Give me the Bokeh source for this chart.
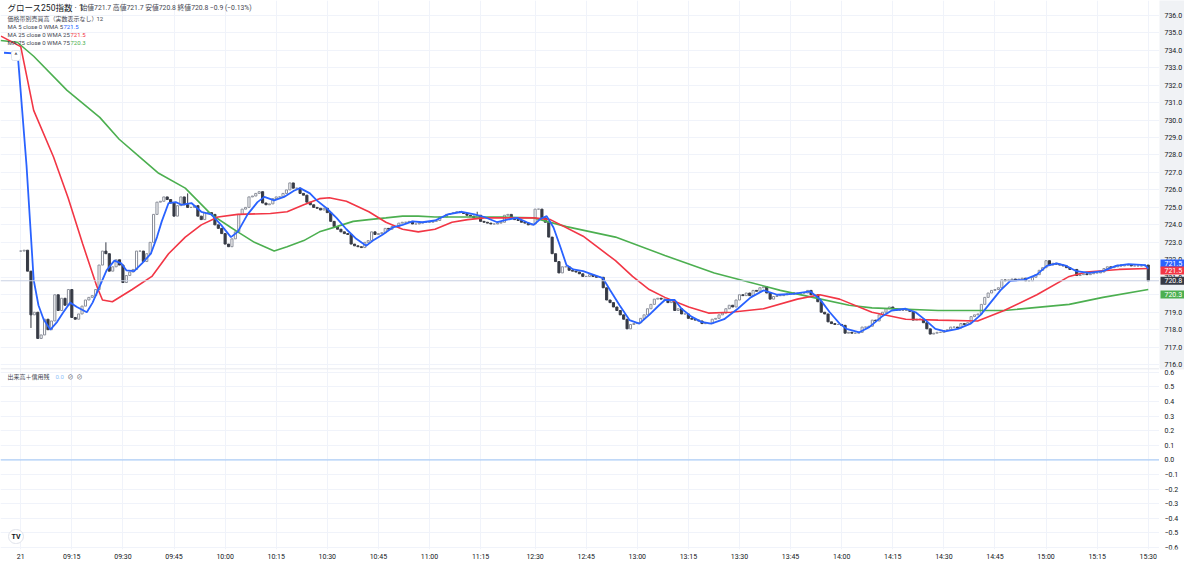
from bokeh.plotting import figure
from bokeh.models import Range1d, FixedTicker, Span, Label, ColumnDataSource, LinearAxis
from bokeh.layouts import column, row
from bokeh.embed import file_html
from bokeh.resources import INLINE
from bokeh.core.properties import value

# ---------------- data ----------------
first_open = 722.5
closes = [
    722.5, 722.55, 721.35, 718.85, 719.0, 717.5, 717.7, 718.6, 718.0, 718.5,
    720.0, 719.1, 719.8, 719.4, 720.3, 718.7, 718.6, 718.9, 719.35, 719.7,
    719.85, 719.95, 720.3, 721.7, 722.5, 722.35, 721.35, 721.6, 722.0, 721.7,
    720.7, 721.1, 721.3, 721.45, 722.5, 722.5, 721.9, 722.35, 723.0, 724.6,
    725.3, 725.35, 725.6, 725.45, 725.25, 724.5, 725.1, 725.6, 725.15, 725.0,
    725.0, 725.1, 724.5, 724.3, 724.7, 724.7, 724.6, 724.0, 723.8, 723.5,
    722.9, 722.75, 723.2, 723.6, 724.6, 724.9, 725.0, 725.6, 725.65, 725.8,
    725.9, 725.25, 725.15, 725.2, 725.5, 725.6, 725.6, 725.8, 726.0, 726.4,
    726.1, 726.1, 725.8, 725.7, 725.3, 725.15, 725.0, 724.95, 724.85, 724.95,
    724.7, 724.2, 723.9, 723.75, 723.6, 723.5, 723.45, 722.9, 722.8, 722.75,
    722.7, 723.0, 723.1, 723.6, 723.45, 723.5, 723.55, 723.8, 723.75, 723.9,
    723.9, 724.1, 724.15, 724.15, 724.2, 724.05, 724.05, 724.1, 724.15, 724.15,
    724.15, 724.2, 724.25, 724.45, 724.45, 724.6, 724.65, 724.7, 724.75, 724.7,
    724.65, 724.55, 724.5, 724.4, 724.55, 724.2, 724.15, 724.1, 724.05, 724.05,
    724.1, 724.15, 724.55, 724.6, 724.4, 724.3, 724.25, 724.15, 724.1, 724.0,
    724.05, 724.9, 724.9, 724.4, 724.15, 723.3, 722.35, 721.9, 721.25, 721.6,
    721.6, 721.4, 721.35, 721.3, 721.2, 721.05, 721.05, 721.15, 721.05, 721.0,
    721.0, 720.4, 719.7, 719.55, 719.3, 719.1, 718.85, 718.6, 718.05, 718.3,
    718.35, 718.4, 718.65, 718.85, 719.2, 719.45, 719.75, 719.8, 719.75, 719.75,
    719.55, 719.65, 719.1, 719.2, 718.9, 718.9, 718.65, 718.6, 718.55, 718.5,
    718.35, 718.35, 718.35, 718.6, 718.65, 718.85, 718.95, 719.2, 719.4, 719.3,
    719.7, 720.0, 719.95, 720.1, 719.95, 720.25, 720.2, 720.4, 720.45, 720.1,
    719.75, 719.9, 719.95, 719.95, 720.0, 720.05, 720.1, 720.05, 720.1, 720.1,
    720.1, 720.25, 720.0, 720.0, 719.6, 719.0, 718.9, 718.45, 718.35, 718.3,
    718.3, 718.25, 717.8, 717.85, 717.8, 717.8, 717.85, 718.15, 718.15, 718.2,
    718.55, 718.5, 718.85, 719.0, 719.2, 719.3, 719.2, 719.1, 719.1, 719.1,
    719.1, 719.05, 718.55, 718.6, 718.6, 718.4, 718.05, 717.75, 717.8, 717.85,
    717.85, 717.95, 718.0, 718.15, 718.15, 718.1, 718.35, 718.3, 718.4, 718.75,
    718.85, 718.9, 719.45, 719.85, 720.1, 720.25, 720.3, 720.4, 720.85, 720.8,
    720.85, 720.9, 720.85, 720.9, 720.95, 720.8, 720.8, 721.0, 721.15, 721.4,
    721.55, 721.95, 721.7, 721.8, 721.75, 721.7, 721.65, 721.55, 721.45, 721.45,
    721.1, 721.15, 721.2, 721.15, 721.2, 721.25, 721.25, 721.3, 721.5, 721.6,
    721.55, 721.6, 721.7, 721.65, 721.7, 721.7, 721.65, 721.65, 721.65, 721.65,
    721.7, 720.8,
]
wick_bars = [3, 25, 49, 134]
wick_lows = [718.1, 722.35, 725.0, 724.4]
wick_highs = [721.35, 723.0, 725.8, 724.75]

# moving averages: (bar position, value)
ma5_bar = [-4.9, -0.9, 0, 1.7, 3.8, 5.2, 6.7, 8.7, 10.7, 12.5, 14.5, 16.5, 19.4, 21.1, 23.2, 25.2, 27.5, 29.5, 31.0, 33.3,
           35.6, 38.2, 40.0, 41.4, 43.4, 45.5, 47.2, 50.1, 53.0, 55.9, 58.8, 61.7, 63.7, 66.6, 69.5, 71.5, 74.4, 77.3, 80.2, 82.0,
           84.9, 86.9, 89.8, 92.7, 95.6, 98.5, 101.4, 103.4, 106.3, 109.2, 112.1, 115.0, 117.9, 121.6, 125.4, 129.5, 133.2, 136.1, 139.9, 142.8,
           145.7, 148.6, 150.6, 152.6, 154.4, 156.4, 158.4, 160.2, 162.2, 165.1, 168.0, 170.9, 172.9, 175.8, 178.7, 181.6, 184.5, 187.4, 189.1, 192.0,
           194.0, 196.9, 199.8, 202.7, 206.5, 210.5, 214.3, 218.1, 222.1, 226.8, 231.7, 234.6, 237.5, 240.4, 242.4, 246.2, 249.1, 252.8, 255.7, 259.8,
           262.7, 265.6, 268.5, 271.4, 275.1, 278.9, 281.8, 284.7, 287.6, 290.5, 294.5, 298.3, 301.2, 304.1, 307.0, 309.9, 313.6, 317.7, 321.5, 325.2,
           330.1, 331.0]
ma5_val = [733.85, 733.8, 731.6, 727.4, 720.85, 719.4, 718.6, 718.0, 718.45, 719.0, 719.55, 719.3, 719.0, 719.55, 720.5, 721.4, 721.95, 721.8, 721.4, 721.35,
           721.8, 722.35, 723.3, 724.2, 725.25, 725.3, 725.15, 725.25, 724.75, 724.6, 724.0, 723.3, 723.6, 724.6, 725.3, 725.6, 725.4, 725.6, 725.95, 726.1,
           725.8, 725.4, 724.95, 724.4, 723.75, 723.2, 722.8, 723.1, 723.45, 723.85, 724.0, 724.2, 724.15, 724.25, 724.6, 724.75, 724.6, 724.45, 724.15, 724.3,
           724.4, 724.15, 724.0, 724.35, 724.5, 723.85, 722.75, 721.7, 721.45, 721.35, 721.15, 720.95, 720.3, 719.4, 718.55, 718.35, 718.85, 719.4, 719.7, 719.7,
           719.2, 718.75, 718.45, 718.35, 718.6, 719.2, 719.85, 720.25, 720.0, 720.05, 720.2, 719.75, 719.0, 718.35, 718.05, 717.85, 718.15, 718.75, 719.1, 719.2,
           719.0, 718.55, 718.05, 717.9, 718.05, 718.35, 718.85, 719.55, 720.25, 720.8, 720.85, 721.15, 721.65, 721.8, 721.65, 721.35, 721.25, 721.35, 721.65, 721.75,
           721.7, 721.5]
ma25_bar = [-5.8, 0, 3.8, 9.6, 13.9, 18.2, 22.3, 24.0, 26.9, 32.7, 38.5, 43.4, 48.3, 53.0, 57.9, 63.7, 73.3, 78.2, 83.1, 87.7,
            90.6, 95.6, 102.2, 107.2, 112.1, 116.7, 121.6, 126.6, 131.2, 136.1, 145.7, 150.6, 155.5, 165.1, 174.6, 179.6, 184.5, 189.1, 196.1, 201.9,
            208.5, 218.1, 228.0, 234.6, 240.4, 249.9, 259.8, 269.3, 280.9, 288.7, 298.3, 307.8, 312.8, 322.4, 331.0]
ma25_val = [734.8, 734.2, 730.55, 727.9, 725.55, 722.9, 720.5, 719.7, 719.6, 720.3, 721.05, 722.35, 723.3, 724.0, 724.45, 724.6, 724.65, 724.75, 725.15, 725.5,
            725.55, 725.35, 724.75, 724.15, 723.75, 723.6, 723.75, 724.15, 724.3, 724.4, 724.4, 724.4, 724.3, 723.35, 721.95, 721.05, 720.3, 719.85, 719.3, 718.95,
            719.0, 719.2, 719.75, 720.0, 719.75, 719.0, 718.6, 718.55, 718.5, 719.1, 720.0, 721.05, 721.3, 721.45, 721.5]
ma75_bar = [-5.9, -1.0, 3.8, 13.6, 23.2, 28.9, 34.8, 40.5, 48.3, 55.9, 61.7, 63.7, 68.6, 74.4, 78.2, 83.1, 87.7, 92.7, 97.6, 102.2,
            107.2, 112.1, 116.7, 121.6, 131.2, 141.0, 150.6, 160.2, 174.6, 189.1, 203.6, 213.4, 223.0, 232.5, 243.2, 249.9, 269.3, 288.7, 307.8, 317.7,
            331.0]
ma75_val = [734.55, 734.45, 733.65, 731.7, 730.15, 728.9, 727.9, 726.95, 726.1, 724.6, 723.85, 723.6, 723.0, 722.5, 722.75, 723.1, 723.6, 723.9, 724.2, 724.3,
            724.4, 724.5, 724.5, 724.45, 724.45, 724.45, 724.4, 723.9, 723.3, 722.25, 721.25, 720.75, 720.25, 719.85, 719.4, 719.25, 719.1, 719.1, 719.45, 719.85,
            720.3]

last_price = 720.8
price_ticks = [716.0, 717.0, 718.0, 719.0, 720.0, 721.0, 722.0, 723.0, 724.0, 725.0, 726.0,
               727.0, 728.0, 729.0, 730.0, 731.0, 732.0, 733.0, 734.0, 735.0, 736.0]
vol_ticks = [-0.6, -0.5, -0.4, -0.3, -0.2, -0.1, 0.0, 0.1, 0.2, 0.3, 0.4, 0.5, 0.6]
tick_times = ["09:00", "09:15", "09:30", "09:45", "10:00", "10:15", "10:30", "10:45", "11:00", "11:15",
              "12:30", "12:45", "13:00", "13:15", "13:30", "13:45", "14:00", "14:15", "14:30", "14:45",
              "15:00", "15:15", "15:30"]
tick_labels = ["21", "09:15", "09:30", "09:45", "10:00", "10:15", "10:30", "10:45", "11:00", "11:15",
               "12:30", "12:45", "13:00", "13:15", "13:30", "13:45", "14:00", "14:15", "14:30", "14:45",
               "15:00", "15:15", "15:30"]

title_text = "グロース250指数 · 1"
ohlc_text = "始値721.7  高値721.7  安値720.8  終値720.8  −0.9 (−0.13%)"
vp_text = "価格帯別売買高（実数表示なし）"
vp_num = "12"
ma_names = ["MA 5 close 0 WMA 5", "MA 25 close 0 WMA 25", "MA 75 close 0 WMA 75"]
ma_last = ["721.5", "721.5", "720.3"]
vol_name = "出来高＋信用残"
vol_val = "0.0"

# ---------------- styling ----------------
BLUE, RED, GREEN = "#2962ff", "#f23645", "#4caf50"
UP_LINE, DOWN = "#8a8e99", "#363a45"
GRID = "#f0f3fa"
FONT = "Roboto, Noto Sans CJK JP, sans-serif"
TXT = "#131722"
SUB = "#434651"
SCALE_BG = "#f0f2f5"
W = 1184
H1, H2 = 368, 195
AXW = 25          # width of the price-scale column
FW = W - AXW      # width of the chart panes
XB = 14           # height of the time scale


def bar_index(t):
    h, m = t.split(":")
    mins = int(h) * 60 + int(m)
    if mins <= 11 * 60 + 30:
        return mins - 9 * 60
    return 151 + mins - (12 * 60 + 30)


tick_pos = [bar_index(t) for t in tick_times]

opens = [first_open] + closes[:-1]
xs = list(range(len(closes)))
up = [c >= o for o, c in zip(opens, closes)]
src = ColumnDataSource(dict(
    x=xs,
    top=[max(o, c) for o, c in zip(opens, closes)],
    bottom=[min(o, c) for o, c in zip(opens, closes)],
    fill=["#ffffff" if u else DOWN for u in up],
    line=[UP_LINE if u else DOWN for u in up],
))

x_range = Range1d(-5.94, 334.3)
y_price = Range1d(715.78, 736.84)
y_vol = Range1d(-0.613, 0.626)


def pane(h, yr, bottom=0, bg="#ffffff", w=FW, xr=None):
    f = figure(width=w, height=h, x_range=xr if xr is not None else x_range, y_range=yr,
               output_backend="svg", toolbar_location=None, x_axis_location=None,
               y_axis_location=None, min_border_left=0, min_border_top=0,
               min_border_right=0, min_border_bottom=bottom)
    f.outline_line_color = None
    f.background_fill_color = bg
    f.border_fill_color = "#ffffff"
    return f


# ---------------- price pane ----------------
p = pane(H1, y_price)
p.xgrid.ticker = FixedTicker(ticks=tick_pos)
p.ygrid.ticker = FixedTicker(ticks=price_ticks)
p.xgrid.grid_line_color = GRID
p.ygrid.grid_line_color = GRID

p.add_layout(Span(location=last_price, dimension="width", line_color="#c9d1e3", line_width=1))
p.segment(x0=wick_bars, x1=wick_bars, y0=wick_lows, y1=wick_highs, line_color=DOWN, line_width=1)
p.vbar(x="x", top="top", bottom="bottom", width=0.62, fill_color="fill", line_color="line",
       line_width=1, source=src)
p.line(ma75_bar, ma75_val, line_color=GREEN, line_width=1.6)
p.line(ma25_bar, ma25_val, line_color=RED, line_width=1.6)
p.line(ma5_bar, ma5_val, line_color=BLUE, line_width=1.8)


def lab(fig, x, ytop, text, h, size="6px", color=SUB):
    fig.add_layout(Label(x=x, y=h - ytop, x_units="screen", y_units="screen", text=text,
                         text_font_size=size, text_color=color, text_font=FONT,
                         text_baseline="middle", text_align="left"))


lab(p, 7, 7, title_text, H1, size="8.5px", color=TXT)
lab(p, 80, 7, ohlc_text, H1, size="6.8px")
lab(p, 7, 18, vp_text, H1)
lab(p, 96, 18, vp_num, H1)
for i, (nm, lv, col, vx) in enumerate(zip(ma_names, ma_last, [BLUE, RED, GREEN], [63, 70, 70])):
    lab(p, 7, 26 + 8 * i, nm, H1)
    lab(p, vx, 26 + 8 * i, lv, H1, color=col)
# collapse button of the legend
p.add_layout(Label(x=11, y=H1 - 55, x_units="screen", y_units="screen", text="^",
                   text_font_size="7px", text_color=TXT, text_font=FONT,
                   text_baseline="middle", text_align="left",
                   background_fill_color="#ffffff", border_line_color="#e0e3eb",
                   border_radius=2, padding=[3, 3, 1, 1]))

# ---------------- price scale column ----------------
sx = Range1d(0, AXW)
pa = pane(H1, y_price, bg=SCALE_BG, w=AXW, xr=sx)
pa.xgrid.visible = False
pa.ygrid.visible = False
pa.text(x=[5] * len(price_ticks), y=price_ticks, text=[f"{t:.1f}" for t in price_ticks],
        text_font_size="7px", text_color=TXT, text_font=value("Roboto"),
        text_baseline="middle", text_align="left")
badge_vals = [ma5_val[-1], ma25_val[-1], last_price, ma75_val[-1]]
badge_cols = [BLUE, RED, DOWN, GREEN]
badge_off = [-5, 2, 0, 5]
pa.text(x=[1] * 4, y=badge_vals, y_offset=badge_off, text=[f"{v:.1f}" for v in badge_vals],
        text_font_size="7px", text_color="#ffffff", text_font=value("Roboto"),
        text_baseline="middle", text_align="left",
        background_fill_color=badge_cols, padding=[4, 4, 1, 2])

# ---------------- volume pane ----------------
p2 = pane(H2, y_vol, bottom=XB)
p2.xgrid.ticker = FixedTicker(ticks=tick_pos)
p2.ygrid.ticker = FixedTicker(ticks=vol_ticks)
p2.xgrid.grid_line_color = GRID
p2.ygrid.grid_line_color = GRID
xa = LinearAxis(ticker=FixedTicker(ticks=tick_pos),
                major_label_overrides={pos: lbl for pos, lbl in zip(tick_pos, tick_labels)})
xa.axis_line_color = None
xa.major_tick_line_color = None
xa.minor_tick_line_color = None
xa.major_tick_out = 0
xa.major_label_standoff = 3
xa.major_label_text_font_size = "7px"
xa.major_label_text_color = TXT
xa.major_label_text_font = "Roboto"
p2.add_layout(xa, "below")

p2.add_layout(Span(location=0.0, dimension="width", line_color="#9cc3f5", line_width=1))
p2.add_layout(Span(location=y_vol.end, dimension="width", line_color="#dfe2e9", line_width=1.5))
p2.scatter([], [])

H2F = H2 - XB
lab(p2, 7, 8, vol_name, H2F)
lab(p2, 55, 8, vol_val, H2F, color="#90bff9")
lab(p2, 67, 8, "⊘", H2F)
lab(p2, 76, 8, "⊘", H2F)
p2.add_layout(Label(x=8, y=6, x_units="screen", y_units="screen", text="TV",
                    text_font_size="7px", text_font_style="bold", text_color=TXT,
                    text_font=FONT, background_fill_color="#ffffff",
                    border_line_color="#e0e3eb", border_radius=7, padding=3))

# ---------------- volume scale column ----------------
pb = pane(H2, y_vol, bottom=XB, w=AXW, xr=sx)
pb.xgrid.visible = False
pb.ygrid.visible = False
pb.text(x=[5] * len(vol_ticks), y=vol_ticks,
        text=[f"{t:.1f}".replace("-", "\u2212") for t in vol_ticks],
        text_font_size="7px", text_color=TXT, text_font=value("Roboto"),
        text_baseline="middle", text_align="left")
pb.add_layout(Span(location=y_vol.end, dimension="width", line_color="#dfe2e9", line_width=1.5))

layout = column(row(p, pa, spacing=0), row(p2, pb, spacing=0), spacing=0)
open("out.html", "w").write(file_html(layout, INLINE))
